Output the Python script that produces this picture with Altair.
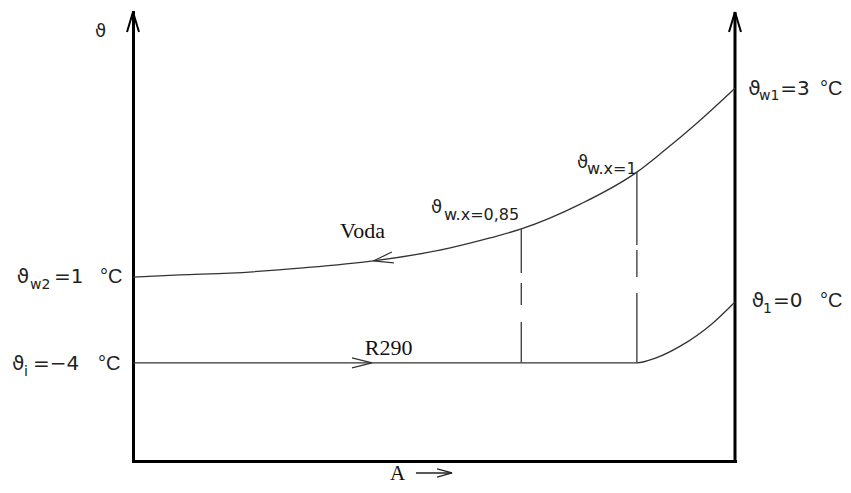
import altair as alt
import pandas as pd

# ---- schematic data (A: 0..100 along exchanger area, T: schematic temperature height)
WATER_A = [0.0, 7.8, 16.1, 27.7, 39.9, 52.7, 59.3, 64.5, 74.3, 83.7, 88.0, 93.7, 100.0]
WATER_T = [41.2, 41.7, 42.1, 43.2, 44.8, 47.7, 49.9, 51.9, 57.4, 64.5, 69.0, 75.4, 83.1]

R290_A = [0.0, 83.7, 86.9, 90.9, 96.3, 100.0]
R290_T = [22.2, 22.2, 23.3, 25.9, 31.0, 35.7]

SPLIT_A = [64.5, 83.7]          # x = 0,85 and x = 1
SPLIT_TOP = [51.9, 64.5]
SPLIT_BOTTOM = [22.2, 22.2]

A_MIN, A_MAX = 0.0, 100.0
T_MIN, T_MAX = 0.44, 100.0

AXIS_ARROW_A = [A_MIN, A_MAX]
AXIS_ARROW_T = [T_MAX, T_MAX]
WATER_ARROW = {"A": [39.9], "T": [44.8]}
R290_ARROW = {"A": [39.7], "T": [22.2]}
A_ARROW = {"A": [47.0], "A2": [53.0], "T": [-2.22]}

# labels: symbols and values of the boundary temperatures
MAIN_TEXT = ["ϑ", "=3", "ϑ", "=1", "ϑ", "=\u22124", "ϑ", "=0"]
MAIN_A = [102.2, 107.5, -19.3, -13.12, -20.1, -16.6, 102.8, 106.3]
MAIN_T = [81.6, 81.6, 39.9, 39.9, 20.6, 20.6, 34.6, 34.6]
DEG_TEXT = ["°C", "°C", "°C", "°C"]
DEG_A = [114.1, -5.5, -5.8, 114.1]
DEG_T = [81.6, 39.9, 20.6, 34.6]
# subscripts of the boundary temperatures
SUB_TEXT = ["w1", "w2", "i", "1"]
SUB_A = [104.0, -17.1, -18.1, 104.65]
SUB_T = [80.4, 38.6, 19.3, 33.3]
# inner theta symbols and axis symbol
THETA_TEXT = ["ϑ", "ϑ", "ϑ"]
THETA_A = [73.75, 49.5, -6.3]
THETA_T = [65.4, 55.4, 94.5]
# inner subscripts
SUB2_TEXT = ["w.x=1", "w.x=0,85"]
SUB2_A = [75.4, 51.66]
SUB2_T = [64.1, 53.9]
# serif words
SERIF_TEXT = ["Voda", "R290", "A"]
SERIF_A = [34.4, 38.5, 42.7]
SERIF_T = [49.9, 23.9, -3.77]

xs = alt.Scale(domain=[A_MIN, A_MAX], nice=False, zero=False)
ys = alt.Scale(domain=[T_MIN, T_MAX], nice=False, zero=False)
ax = alt.Axis(domain=True, domainColor="black", domainWidth=3, domainCap="square",
              ticks=False, labels=False, grid=False, title=None)


def X(field="A"):
    return alt.X(f"{field}:Q", scale=xs, axis=ax)


def Y(field="T"):
    return alt.Y(f"{field}:Q", scale=ys, axis=ax)


LINE = "#333333"

UP = "M 0 0 L -0.6 2 M 0 0 L 0.6 2"
LEFT = "M 0 0 L 2 -0.55 M 0 0 L 2 0.55"
RIGHT = "M 0 0 L -2 -0.5 M 0 0 L -2 0.5"
RIGHT_S = "M 0 0 L -2 -0.55 M 0 0 L -2 0.55"

water = alt.Chart(pd.DataFrame({"A": WATER_A, "T": WATER_T})).mark_line(
    interpolate="monotone", color=LINE, strokeWidth=1.3).encode(x=X(), y=Y())
r290 = alt.Chart(pd.DataFrame({"A": R290_A, "T": R290_T})).mark_line(
    interpolate="monotone", color=LINE, strokeWidth=1.3).encode(x=X(), y=Y())

frame = alt.Chart(pd.DataFrame({"A": [A_MAX], "T": [T_MAX], "T2": [T_MIN]})).mark_rule(
    color="black", strokeWidth=3).encode(x=X(), y=Y(), y2="T2:Q")

split_df = pd.DataFrame({"A": SPLIT_A, "T": SPLIT_TOP, "T2": SPLIT_BOTTOM})
split1 = alt.Chart(split_df.iloc[[0]]).mark_rule(
    color="#444444", strokeWidth=1.4, strokeDash=[44, 10, 22, 17, 200, 1]).encode(
    x=X(), y=Y(), y2="T2:Q")
split2 = alt.Chart(split_df.iloc[[1]]).mark_rule(
    color="#444444", strokeWidth=1.4, strokeDash=[73, 5, 27, 16, 200, 1]).encode(
    x=X(), y=Y(), y2="T2:Q")

axis_arrows = alt.Chart(pd.DataFrame({"A": AXIS_ARROW_A, "T": AXIS_ARROW_T})).mark_point(
    shape=UP, size=400, filled=False, color="black", strokeWidth=2, opacity=1).encode(x=X(), y=Y())
water_arrow = alt.Chart(pd.DataFrame(WATER_ARROW)).mark_point(
    shape=LEFT, size=400, filled=False, color=LINE, strokeWidth=1.2, opacity=1, angle=350).encode(x=X(), y=Y())
r290_arrow = alt.Chart(pd.DataFrame(R290_ARROW)).mark_point(
    shape=RIGHT, size=400, filled=False, color=LINE, strokeWidth=1.2, opacity=1).encode(x=X(), y=Y())
a_df = pd.DataFrame(A_ARROW)
a_line = alt.Chart(a_df).mark_rule(color="#222222", strokeWidth=1.3).encode(x=X(), x2="A2:Q", y=Y())
a_head = alt.Chart(a_df).mark_point(
    shape=RIGHT_S, size=225, filled=False, color="#222222", strokeWidth=1.3, opacity=1).encode(
    x=X("A2"), y=Y())


def texts(t, a, v, font, size, color="#222222"):
    return alt.Chart(pd.DataFrame({"label": t, "A": a, "T": v})).mark_text(
        align="left", baseline="alphabetic", font=font, fontSize=size, color=color).encode(
        x=X(), y=Y(), text="label:N")


main_t = texts(MAIN_TEXT, MAIN_A, MAIN_T, "DejaVu Sans", 20)
deg_t = texts(DEG_TEXT, DEG_A, DEG_T, "Liberation Sans", 20)
sub_t = texts(SUB_TEXT, SUB_A, SUB_T, "DejaVu Sans", 14)
theta_t = texts(THETA_TEXT, THETA_A, THETA_T, "DejaVu Sans", 18)
sub2_t = texts(SUB2_TEXT, SUB2_A, SUB2_T, "DejaVu Sans", 16)
serif_t = texts(SERIF_TEXT[:2], SERIF_A[:2], SERIF_T[:2], "Liberation Serif", 22, "#111111")
a_t = texts(SERIF_TEXT[2:], SERIF_A[2:], SERIF_T[2:], "Liberation Serif", 21, "#111111")

chart = alt.layer(
    frame, water, r290, split1, split2, axis_arrows, water_arrow, r290_arrow,
    a_line, a_head, main_t, deg_t, sub_t, theta_t, sub2_t, serif_t, a_t
).properties(
    width=602, height=449,
    autosize=alt.AutoSizeParams(type="none"),
    padding={"left": 125, "top": 4, "right": 108, "bottom": 24},
    background="white",
).configure_view(strokeWidth=0)

chart.save("out.html", embed_options={"renderer": "svg", "actions": False})
